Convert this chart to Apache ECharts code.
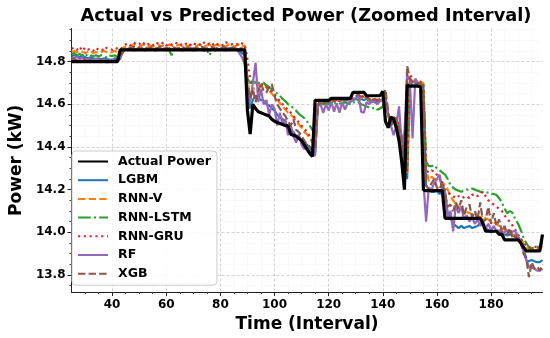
<!DOCTYPE html>
<html>
<head>
<meta charset="utf-8">
<script src="https://cdn.jsdelivr.net/npm/echarts@6/dist/echarts.min.js"></script>
<style>html,body{margin:0;padding:0;background:#fff;}#chart{width:550px;height:338px;}</style>
</head>
<body>
<div id="chart"></div>
<script>
// Time intervals start at 25, one value per interval (25..199)
const startTime = 25;
const seriesNames = ['Actual Power', 'LGBM', 'RNN-V', 'RNN-LSTM', 'RNN-GRU', 'RF', 'XGB'];
const yTicks = [13.8, 14.0, 14.2, 14.4, 14.6, 14.8];
const xTicks = [40, 60, 80, 100, 120, 140, 160, 180];

const actual = [
14.80,14.80,14.80,14.80,14.80,14.80,14.80,14.80,14.80,14.80,
14.80,14.80,14.80,14.80,14.80,14.80,14.80,14.80,14.855,14.855,
14.855,14.855,14.855,14.855,14.855,14.855,14.855,14.855,14.855,14.855,
14.855,14.855,14.855,14.855,14.855,14.855,14.855,14.855,14.855,14.855,
14.855,14.855,14.855,14.855,14.855,14.855,14.855,14.855,14.855,14.855,
14.855,14.855,14.855,14.855,14.855,14.855,14.855,14.855,14.855,14.855,
14.855,14.855,14.855,14.855,14.855,14.57,14.46,14.60,14.58,14.565,
14.56,14.555,14.55,14.545,14.53,14.52,14.515,14.51,14.505,14.50,
14.50,14.46,14.455,14.45,14.44,14.43,14.41,14.39,14.37,14.355,
14.618,14.618,14.618,14.618,14.618,14.618,14.628,14.628,14.628,14.628,
14.628,14.628,14.628,14.628,14.656,14.656,14.656,14.656,14.656,14.64,
14.64,14.64,14.64,14.64,14.64,14.66,14.52,14.49,14.54,14.53,
14.49,14.43,14.33,14.20,14.69,14.685,14.685,14.685,14.685,14.68,
14.20,14.195,14.195,14.195,14.195,14.195,14.195,14.195,14.065,14.065,
14.065,14.065,14.065,14.065,14.065,14.065,14.065,14.065,14.065,14.065,
14.065,14.065,14.04,14.005,14.005,14.005,14.005,14.005,13.99,13.99,
13.965,13.965,13.965,13.965,13.965,13.965,13.95,13.93,13.913,13.913,
13.913,13.913,13.913,13.913,13.99
];
const lgbm = [
14.825,14.83,14.825,14.82,14.83,14.82,14.815,14.82,14.815,14.81,
14.815,14.81,14.815,14.81,14.81,14.805,14.815,14.81,14.815,14.85,
14.855,14.86,14.855,14.86,14.855,14.86,14.855,14.855,14.86,14.855,
14.86,14.855,14.86,14.855,14.86,14.86,14.855,14.86,14.855,14.86,
14.855,14.86,14.855,14.86,14.86,14.855,14.86,14.855,14.86,14.855,
14.86,14.855,14.86,14.855,14.86,14.855,14.86,14.855,14.86,14.855,
14.86,14.855,14.85,14.84,14.83,14.66,14.58,14.62,14.64,14.63,
14.62,14.615,14.60,14.595,14.58,14.57,14.55,14.54,14.53,14.51,
14.49,14.48,14.47,14.45,14.44,14.43,14.42,14.41,14.40,14.37,
14.37,14.60,14.61,14.60,14.61,14.605,14.61,14.615,14.62,14.615,
14.62,14.615,14.62,14.615,14.62,14.625,14.62,14.625,14.62,14.625,
14.615,14.61,14.615,14.61,14.615,14.62,14.63,14.55,14.50,14.52,
14.52,14.48,14.43,14.33,14.25,14.70,14.69,14.685,14.69,14.685,
14.68,14.22,14.20,14.19,14.19,14.195,14.18,14.19,14.185,14.09,
14.07,14.04,14.03,14.02,14.03,14.02,14.025,14.03,14.02,14.025,
14.03,14.04,14.035,14.02,14.01,14.00,14.005,14.01,14.00,13.995,
13.99,13.985,13.99,13.985,13.99,13.98,13.96,13.93,13.87,13.865,
13.87,13.865,13.86,13.86,13.87
];
const rnnV = [
14.845,14.85,14.845,14.85,14.845,14.84,14.845,14.85,14.84,14.845,
14.84,14.845,14.85,14.845,14.84,14.845,14.85,14.845,14.85,14.865,
14.87,14.875,14.87,14.88,14.875,14.87,14.875,14.88,14.87,14.875,
14.87,14.875,14.88,14.87,14.875,14.87,14.88,14.875,14.87,14.875,
14.88,14.87,14.875,14.87,14.88,14.875,14.87,14.88,14.875,14.87,
14.875,14.88,14.87,14.875,14.88,14.87,14.875,14.87,14.88,14.875,
14.87,14.875,14.88,14.87,14.875,14.72,14.62,14.66,14.70,14.69,
14.70,14.70,14.68,14.665,14.65,14.635,14.62,14.605,14.59,14.575,
14.56,14.55,14.54,14.52,14.505,14.49,14.47,14.46,14.44,14.42,
14.40,14.60,14.61,14.605,14.61,14.615,14.61,14.62,14.615,14.62,
14.625,14.62,14.625,14.62,14.625,14.63,14.635,14.63,14.635,14.63,
14.62,14.615,14.62,14.61,14.62,14.615,14.635,14.56,14.51,14.53,
14.53,14.49,14.44,14.36,14.27,14.72,14.71,14.70,14.705,14.70,
14.70,14.30,14.24,14.26,14.25,14.25,14.24,14.235,14.22,14.20,
14.17,14.15,14.13,14.12,14.11,14.10,14.095,14.09,14.085,14.08,
14.075,14.07,14.08,14.065,14.06,14.05,14.045,14.04,14.03,14.02,
14.01,14.005,14.00,13.99,13.985,13.98,13.97,13.945,13.93,13.925,
13.925,13.93,13.925,13.93,13.935
];
const rnnLstm = [
14.835,14.84,14.83,14.835,14.83,14.825,14.835,14.83,14.825,14.83,
14.825,14.83,14.825,14.82,14.83,14.825,14.83,14.82,14.825,14.85,
14.855,14.86,14.855,14.86,14.855,14.86,14.855,14.86,14.855,14.86,
14.855,14.86,14.855,14.86,14.85,14.86,14.855,14.83,14.855,14.86,
14.855,14.86,14.855,14.86,14.855,14.86,14.855,14.86,14.855,14.86,
14.855,14.83,14.86,14.855,14.86,14.855,14.86,14.855,14.86,14.855,
14.86,14.855,14.86,14.855,14.86,14.72,14.70,14.70,14.705,14.70,
14.70,14.70,14.69,14.68,14.67,14.66,14.65,14.64,14.625,14.615,
14.60,14.595,14.58,14.57,14.555,14.545,14.535,14.52,14.50,14.48,
14.46,14.60,14.605,14.60,14.605,14.60,14.61,14.605,14.61,14.605,
14.60,14.61,14.605,14.60,14.61,14.605,14.61,14.60,14.595,14.59,
14.585,14.58,14.585,14.575,14.58,14.59,14.62,14.55,14.51,14.53,
14.53,14.50,14.46,14.37,14.30,14.72,14.71,14.70,14.70,14.695,
14.69,14.33,14.31,14.31,14.315,14.30,14.29,14.28,14.27,14.25,
14.22,14.21,14.20,14.195,14.19,14.195,14.20,14.20,14.205,14.20,
14.195,14.19,14.19,14.19,14.185,14.18,14.18,14.175,14.16,14.14,
14.11,14.09,14.10,14.09,14.06,14.04,14.01,13.975,13.95,13.93,
13.925,13.925,13.93,13.94,13.95
];
const rnnGru = [
14.86,14.865,14.855,14.87,14.85,14.865,14.855,14.86,14.85,14.865,
14.855,14.86,14.85,14.865,14.86,14.855,14.865,14.86,14.855,14.87,
14.88,14.885,14.875,14.89,14.88,14.885,14.875,14.89,14.88,14.885,
14.875,14.89,14.885,14.88,14.89,14.875,14.885,14.88,14.89,14.885,
14.875,14.885,14.88,14.89,14.875,14.885,14.88,14.885,14.875,14.89,
14.88,14.885,14.875,14.89,14.88,14.885,14.875,14.89,14.885,14.88,
14.885,14.88,14.89,14.885,14.88,14.81,14.72,14.70,14.705,14.70,
14.695,14.69,14.68,14.67,14.66,14.645,14.63,14.615,14.60,14.585,
14.575,14.56,14.545,14.53,14.515,14.50,14.485,14.47,14.45,14.43,
14.42,14.60,14.615,14.61,14.62,14.615,14.62,14.625,14.62,14.625,
14.625,14.63,14.625,14.63,14.625,14.635,14.64,14.635,14.64,14.635,
14.625,14.62,14.625,14.615,14.62,14.62,14.635,14.56,14.52,14.53,
14.535,14.50,14.45,14.37,14.28,14.74,14.72,14.71,14.71,14.705,
14.70,14.29,14.28,14.29,14.285,14.27,14.25,14.22,14.20,14.19,
14.175,14.17,14.16,14.17,14.16,14.165,14.17,14.16,14.175,14.18,
14.17,14.18,14.19,14.17,14.15,14.14,14.13,14.12,14.11,14.10,
14.08,14.06,14.05,14.03,14.01,13.99,13.97,13.95,13.94,13.93,
13.925,13.93,13.935,13.93,13.93
];
const rf = [
14.82,14.815,14.825,14.81,14.82,14.805,14.815,14.81,14.80,14.815,
14.81,14.80,14.81,14.795,14.805,14.81,14.80,14.81,14.82,14.85,
14.86,14.855,14.865,14.85,14.86,14.855,14.865,14.85,14.86,14.855,
14.86,14.85,14.865,14.855,14.86,14.85,14.86,14.855,14.865,14.855,
14.86,14.85,14.86,14.855,14.865,14.85,14.86,14.855,14.86,14.85,
14.86,14.855,14.865,14.85,14.86,14.855,14.86,14.85,14.865,14.855,
14.86,14.855,14.84,14.82,14.79,14.66,14.61,14.70,14.795,14.61,
14.67,14.60,14.62,14.55,14.60,14.58,14.50,14.56,14.50,14.53,
14.455,14.50,14.45,14.42,14.46,14.41,14.39,14.40,14.38,14.36,
14.36,14.59,14.60,14.56,14.60,14.57,14.61,14.565,14.605,14.56,
14.61,14.575,14.605,14.61,14.62,14.63,14.645,14.565,14.56,14.61,
14.60,14.615,14.61,14.60,14.615,14.625,14.62,14.55,14.50,14.455,
14.50,14.59,14.41,14.47,14.74,14.71,14.44,14.72,14.70,14.68,
14.24,14.05,14.21,14.20,14.23,14.25,14.27,14.20,14.19,14.07,
14.10,14.005,14.13,14.09,14.12,14.06,14.08,14.05,14.07,14.04,
14.06,14.03,14.05,14.02,14.04,14.01,14.03,14.005,14.01,14.00,
14.00,14.01,13.995,14.005,14.005,13.98,13.95,13.91,13.87,13.84,
13.835,13.83,13.82,13.82,13.83
];
const xgb = [
14.81,14.815,14.805,14.81,14.80,14.815,14.805,14.81,14.80,14.805,
14.80,14.81,14.795,14.805,14.80,14.81,14.805,14.80,14.815,14.845,
14.86,14.865,14.86,14.87,14.86,14.865,14.855,14.87,14.86,14.865,
14.87,14.86,14.865,14.87,14.86,14.865,14.86,14.87,14.865,14.86,
14.865,14.87,14.86,14.865,14.87,14.86,14.865,14.86,14.87,14.865,
14.86,14.865,14.87,14.86,14.865,14.86,14.87,14.865,14.86,14.865,
14.865,14.86,14.865,14.86,14.84,14.70,14.63,14.67,14.61,14.66,
14.70,14.66,14.655,14.68,14.695,14.64,14.60,14.58,14.56,14.545,
14.52,14.50,14.53,14.48,14.47,14.45,14.43,14.41,14.40,14.39,
14.385,14.59,14.62,14.60,14.62,14.61,14.625,14.615,14.62,14.615,
14.625,14.615,14.63,14.625,14.635,14.64,14.645,14.635,14.64,14.63,
14.625,14.615,14.625,14.62,14.625,14.635,14.67,14.56,14.50,14.54,
14.53,14.49,14.43,14.32,14.78,14.72,14.70,14.695,14.70,14.69,
14.66,14.22,14.20,14.23,14.25,14.21,14.20,14.24,14.18,14.12,
14.13,14.10,14.14,14.11,14.15,14.08,14.12,14.13,14.07,14.10,
14.06,14.14,14.05,14.06,14.12,14.04,14.09,14.03,14.06,14.00,
14.03,13.99,14.02,13.97,13.985,13.96,13.95,13.90,13.88,13.79,
13.86,13.83,13.84,13.82,13.85
];

const allValues = [actual, lgbm, rnnV, rnnLstm, rnnGru, rf, xgb];
const colors = ['#000000', '#1f77b4', '#ff7f0e', '#2ca02c', '#d62728', '#9467bd', '#8c564b'];
const widths = [3.2, 2.2, 2.2, 2.2, 2.2, 2.2, 2.2];
const dashes = ['solid', 'solid', [7.4, 3.2], [12.8, 3.2, 2, 3.2], [2.2, 3.6], 'solid', [7.4, 3.2]];
const zs = [10, 2, 3, 4, 5, 6, 7];

function pairs(arr) { return arr.map((v, i) => [startTime + i, v]); }

const font = 'DejaVu Sans';
const chart = echarts.init(document.getElementById('chart'), null, {renderer: 'canvas'});
const series = seriesNames.map((name, k) => ({
  name: name,
  type: 'line',
  data: pairs(allValues[k]),
  symbol: 'none',
  showSymbol: false,
  z: zs[k],
  animation: false,
  lineStyle: {color: colors[k], width: widths[k], type: dashes[k], cap: 'butt'},
  itemStyle: {color: colors[k]}
}));

chart.setOption({
  animation: false,
  backgroundColor: '#ffffff',
  title: {
    text: 'Actual vs Predicted Power (Zoomed Interval)',
    left: 301, top: 2, textAlign: 'center',
    textStyle: {fontFamily: font, fontWeight: 'bold', fontSize: 17.8, color: '#000'}
  },
  legend: {
    data: seriesNames,
    orient: 'vertical',
    left: 72, top: 151,
    itemWidth: 30, itemHeight: 12, itemGap: 3.7,
    padding: [3, 6, 4, 5],
    backgroundColor: 'rgba(255,255,255,0.85)',
    borderColor: '#cccccc', borderWidth: 1, borderRadius: 4,
    itemStyle: {opacity: 0},
    textStyle: {fontFamily: font, fontWeight: 'bold', fontSize: 12.5, color: '#000', lineHeight: 15, padding: [0, 0, 0, 5]}
  },
  grid: {left: 66.6, right: 7.5, top: 28.5, bottom: 44},
  xAxis: {
    type: 'value', min: 25, max: 199, splitNumber: 8,
    name: 'Time (Interval)', nameLocation: 'middle', nameGap: 22,
    nameTextStyle: {fontFamily: font, fontWeight: 'bold', fontSize: 17, color: '#000'},
    axisLine: {show: true, lineStyle: {color: '#222', width: 1}},
    axisTick: {show: true, length: 4, lineStyle: {color: '#222'}, customValues: xTicks},
    axisLabel: {fontFamily: font, fontWeight: 'bold', fontSize: 12, color: '#000', margin: 7, customValues: xTicks},
    minorTick: {show: true, splitNumber: 4, length: 2, lineStyle: {color: '#444'}},
    splitLine: {show: true, lineStyle: {color: '#c8c8c8', type: [3, 2], width: 0.8}, customValues: xTicks},
    minorSplitLine: {show: true, lineStyle: {color: '#e4e4e4', type: [1, 2], width: 0.6}}
  },
  yAxis: {
    type: 'value', min: 13.72, max: 14.955, splitNumber: 6,
    name: 'Power (kW)', nameLocation: 'middle', nameGap: 42,
    nameTextStyle: {fontFamily: font, fontWeight: 'bold', fontSize: 17, color: '#000'},
    axisLine: {show: true, lineStyle: {color: '#222', width: 1}},
    axisTick: {show: true, length: 4, lineStyle: {color: '#222'}, customValues: yTicks},
    axisLabel: {fontFamily: font, fontWeight: 'bold', fontSize: 12, color: '#000', margin: 6, customValues: yTicks,
      formatter: v => v.toFixed(1)},
    minorTick: {show: true, splitNumber: 4, length: 2, lineStyle: {color: '#444'}},
    splitLine: {show: true, lineStyle: {color: '#c8c8c8', type: [3, 2], width: 0.8}, customValues: yTicks},
    minorSplitLine: {show: true, lineStyle: {color: '#e4e4e4', type: [1, 2], width: 0.6}}
  },
  series: series
});
</script>
</body>
</html>
